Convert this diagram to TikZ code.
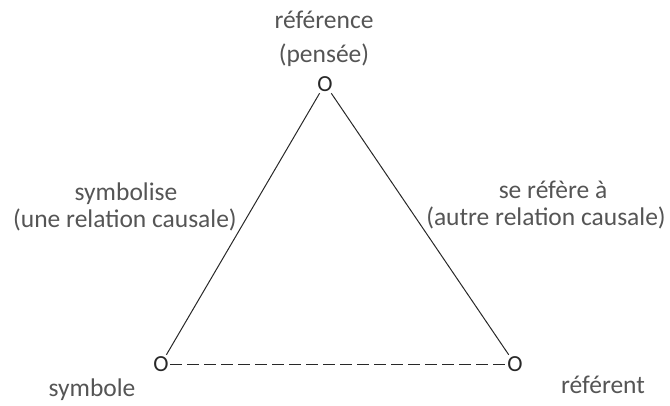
\documentclass[tikz,border=0pt]{standalone}
\usepackage{fontspec}
\setmainfont{Carlito}
\definecolor{txt}{RGB}{85,85,85}
\definecolor{ln}{RGB}{40,40,40}
\begin{document}
\begin{tikzpicture}[x=1pt,y=-1pt,
  lbl/.style={anchor=base,inner sep=0pt,text=txt,font=\fontsize{25.5}{30}\selectfont},
  vtx/.style={anchor=center,inner sep=1.5pt,text=ln,font=\fontsize{23}{27}\selectfont},
  edge/.style={draw=ln,line width=1pt},
  dashedge/.style={draw=ln,line width=1pt,dash pattern=on 12pt off 5pt}]
\useasboundingbox (0,0) rectangle (670,405);
\node[vtx] (t) at (325,84) {O};
\node[vtx] (l) at (161,364) {O};
\node[vtx] (r) at (515,364) {O};
\node[lbl] (ref1) at (324,28) {référence};
\node[lbl] (ref2) at (324,62) {(pensée)};
\node[lbl] (s1) at (126,200) {symbolise};
\node[lbl] (s2) at (125,227) {(une relation causale)};
\node[lbl] (r1) at (553,198) {se réfère à};
\node[lbl] (r2) at (546,225) {(autre relation causale)};
\node[lbl] (sym) at (92,396) {symbole};
\node[lbl] (rft) at (603,393) {référent};
\path[edge] (t) -- (l);
\path[edge] (t) -- (r);
\path[dashedge] (l) -- (r);
\end{tikzpicture}
\end{document}
